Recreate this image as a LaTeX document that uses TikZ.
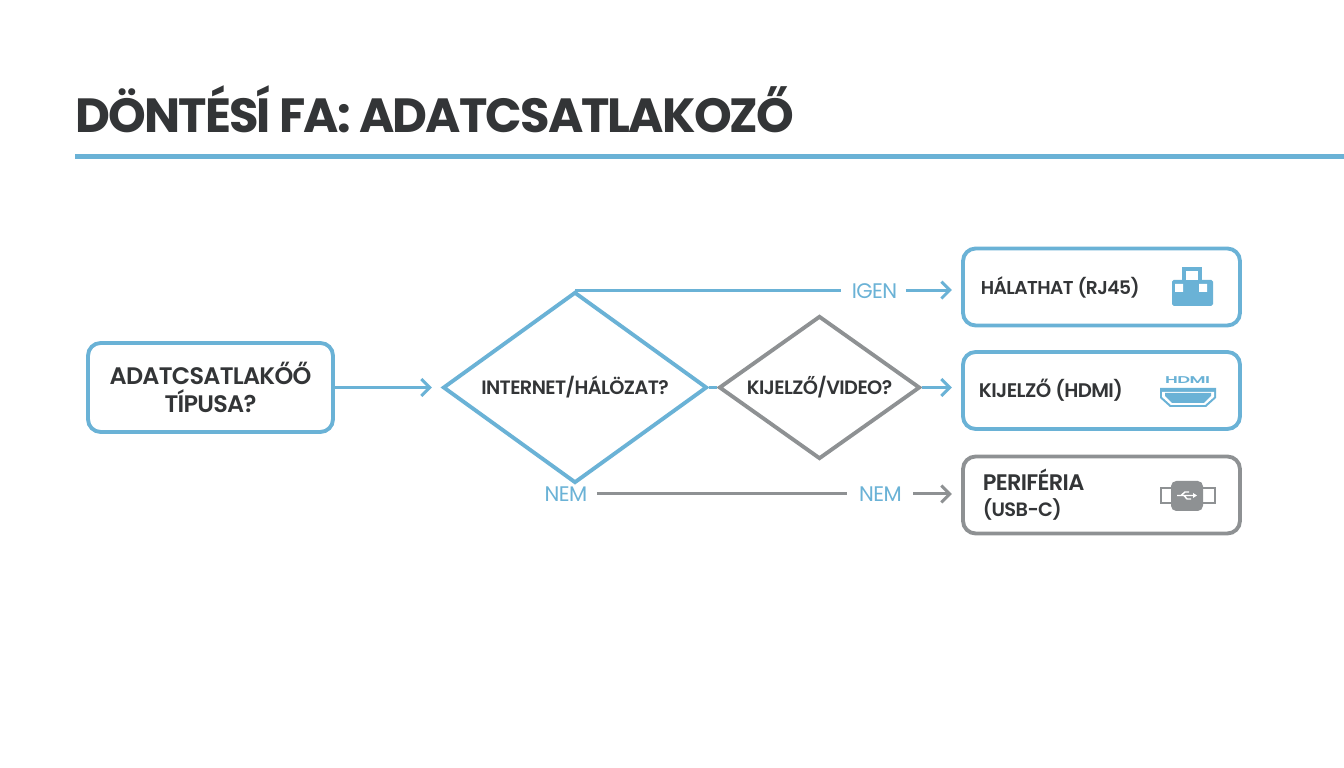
\documentclass[tikz,border=0pt]{standalone}
\usepackage{fontspec}
\usepackage{graphicx}
\setmainfont{Poppins}[BoldFont={Poppins SemiBold},LetterSpace=-3]
\newfontfamily\cimfont{Poppins}[LetterSpace=-3.9]
\usepackage{tikz}
\usetikzlibrary{positioning,shapes.geometric,arrows.meta}
\definecolor{kek}{HTML}{6AB2D6}
\definecolor{szurke}{HTML}{8E9193}
\definecolor{sotet}{HTML}{333537}
\tikzset{
  doboz/.style={draw=kek, line width=1.1pt, rounded corners=3.6pt, fill=white, minimum width=2.77cm, minimum height=0.77cm},
  rombusz/.style={draw=kek, line width=1.1pt, diamond, inner sep=0pt, fill=white, font=\bfseries\fontsize{5.5}{6}\selectfont, text=sotet},
  felirat/.style={font=\bfseries\fontsize{5.5}{7.4}\selectfont, text=sotet, align=left, anchor=west, inner sep=0pt},
  cimke/.style={font=\fontsize{6}{7}\selectfont, text=kek, inner sep=0pt},
  vonal/.style={draw=kek, line width=0.85pt},
  nyil/.style={vonal, ->, >={Straight Barb[length=2.4pt,width=4.8pt]}, shorten >=2.6pt}
}
\begin{document}
\begin{tikzpicture}
  \useasboundingbox (0,0) rectangle (13.44,7.68);
  \fill[white] (0,0) rectangle (13.44,7.68);
  % cim
  \node[anchor=base west, inner sep=0pt, text=sotet, font=\cimfont\bfseries\fontsize{13.65}{18}\selectfont] (cim) at (0.75,6.35) {DÖNTÉSÍ FA: ADATCSATLAKOZŐ};
  \fill[kek] (0.75,6.09) rectangle (13.44,6.14);
  % bal oldal
  \node[doboz, minimum width=2.45cm, minimum height=0.89cm, align=center, font=\bfseries\fontsize{6.8}{8.2}\selectfont, text=sotet] (kerdes) at (2.105,3.805) {ADATCSATLAKŐŐ\\TÍPUSA?};
  \node[rombusz, aspect=1.38, minimum width=2.64cm, minimum height=1.91cm] (internet) at (5.75,3.805) {INTERNET/HÁLÖZAT?};
  \node[rombusz, aspect=1.405, draw=szurke, minimum width=2.01cm, minimum height=1.43cm] (kijelzo) at (8.195,3.805) {KIJELZŐ/VIDEO?};
  % jobb oldal
  \node[doboz] (halozat) at (11.015,4.81) {};
  \node[doboz] (hdmi) at (11.015,3.775) {};
  \node[doboz, draw=szurke] (usb) at (11.015,2.73) {};
  \node[felirat, font=\bfseries\fontsize{5.3}{7}\selectfont, right=0.19 of halozat.west] (halozattxt) {HÁLATHAT (RJ45)};
  \node[felirat, font=\bfseries\fontsize{5.6}{7}\selectfont, right=0.17 of hdmi.west] (hdmitxt) {KIJELZŐ (HDMI)};
  \node[felirat, font=\bfseries\fontsize{6.4}{7.4}\selectfont, right=0.21 of usb.west] (usbtxt) {PERIFÉRIA\\{\fontsize{5.5}{7.4}\selectfont (USB-C)}};
  % feliratok
  \node[cimke] (igen) at (8.745,4.77) {IGEN};
  \node[cimke] (nem1) at (5.66,2.74) {NEM};
  \node[cimke] (nem2) at (8.805,2.74) {NEM};
  % vonalak
  \draw[nyil] (kerdes.east) -- (internet.west);
  \draw[vonal] (internet.north) -- ([xshift=-1mm]internet.north -| igen.west);
  \draw[nyil] ([xshift=0.8mm]igen.east |- internet.north) -- (internet.north -| halozat.west);
  \draw[vonal] (internet.east) -- (kijelzo.west);
  \draw[nyil] (kijelzo.east) -- (kijelzo.east -| hdmi.west);
  \draw[vonal, draw=szurke] ([xshift=0.9mm]nem1.east) -- ([xshift=-1.2mm]nem2.west);
  \draw[nyil, draw=szurke] ([xshift=1.1mm]nem2.east) -- (nem2.east -| usb.west);
  % RJ45
  \fill[kek, rounded corners=0.5pt] (11.72,4.62) rectangle (12.13,4.88);
  \fill[white] (11.75,4.76) rectangle (11.83,4.84) (11.99,4.76) rectangle (12.07,4.84);
  \fill[kek] (11.82,4.87) rectangle (12.02,5.01);
  \fill[white] (11.86,4.88) rectangle (11.98,4.97);
  % HDMI
  \fill[kek] (11.60,3.80) -- (12.16,3.80) -- (12.16,3.70) -- (12.06,3.61) -- (11.70,3.61) -- (11.60,3.70) -- cycle;
  \fill[white] (11.62,3.76) -- (12.14,3.76) -- (12.14,3.71) -- (12.05,3.63) -- (11.71,3.63) -- (11.62,3.71) -- cycle;
  \fill[kek] (11.65,3.75) -- (12.11,3.75) -- (12.11,3.72) -- (12.04,3.65) -- (11.72,3.65) -- (11.65,3.72) -- cycle;
  \node[text=kek, inner sep=0pt, font=\bfseries\fontsize{3.5}{4}\selectfont] (hdmijel) at (11.875,3.88) {\scalebox{1.45}[0.8]{HDMI}};
  % USB
  \draw[szurke, line width=0.55pt] (11.71,2.80) -- (11.61,2.80) -- (11.61,2.65) -- (11.71,2.65);
  \draw[szurke, line width=0.55pt] (12.02,2.80) -- (12.15,2.80) -- (12.15,2.65) -- (12.02,2.65);
  \fill[szurke, rounded corners=1.5pt] (11.71,2.57) rectangle (12.03,2.87);
  \draw[white, line width=0.4pt] (11.77,2.725) -- (11.94,2.725) (11.81,2.725) -- (11.85,2.76) -- (11.89,2.76) (11.84,2.725) -- (11.87,2.69) -- (11.91,2.69);
  \fill[white] (11.93,2.75) -- (11.97,2.725) -- (11.93,2.70) -- cycle;
\end{tikzpicture}
\end{document}
